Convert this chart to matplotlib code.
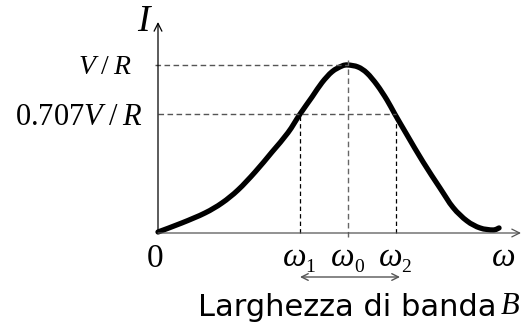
import numpy as np
import matplotlib.pyplot as plt
from matplotlib.path import Path
from matplotlib.patches import PathPatch

plt.rcParams['mathtext.fontset'] = 'custom'
plt.rcParams['mathtext.rm'] = 'Liberation Serif'
plt.rcParams['mathtext.it'] = 'Liberation Serif:italic'

# resonance curve, current normalised to V/R and frequency to omega0
omega = [0.0, 0.126, 0.247, 0.337, 0.421, 0.511, 0.600, 0.684, 0.747, 0.811,
         0.863, 0.916, 0.968, 1.0, 1.053, 1.100, 1.153, 1.205, 1.247, 1.311,
         1.395, 1.484, 1.553, 1.626, 1.695, 1.763, 1.795]
current = [0.006, 0.060, 0.119, 0.179, 0.256, 0.363, 0.482, 0.597, 0.707, 0.810,
           0.895, 0.960, 0.994, 1.0, 0.988, 0.952, 0.881, 0.792, 0.707, 0.583,
           0.423, 0.268, 0.152, 0.072, 0.030, 0.018, 0.030]
omega0 = 1.0
omega1 = 0.747
omega2 = 1.253
peak = 1.0
half_power = 0.707

W, H = 524, 329
fig = plt.figure(figsize=(W / 100, H / 100), dpi=100)
ax = fig.add_axes([0, 0, 1, 1])
# origin of the plot sits at (158, 233) px, 190 px per omega0, 168 px per V/R
sx, sy = 190.0, 168.0
ox, oy = 158.0, 233.0
ax.set_xlim(-ox / sx, (W - ox) / sx)
ax.set_ylim(-(H - oy) / sy, oy / sy)
ax.axis('off')


def P(x, y):
    return ((x - ox) / sx, (oy - y) / sy)


def smooth_path(xs, ys):
    # Catmull-Rom through the points, written as cubic Bezier segments
    pts = np.column_stack([xs, ys])
    verts = [pts[0]]
    codes = [Path.MOVETO]
    for i in range(len(pts) - 1):
        p0 = pts[max(i - 1, 0)]
        p1, p2 = pts[i], pts[i + 1]
        p3 = pts[min(i + 2, len(pts) - 1)]
        verts += [p1 + (p2 - p0) / 6, p2 - (p3 - p1) / 6, p2]
        codes += [Path.CURVE4] * 3
    return Path(verts, codes)


arrow = dict(arrowstyle='->', color='black', lw=0.9, mutation_scale=14,
             shrinkA=0, shrinkB=0)
# axes with arrow heads
ax.annotate('', xy=(0, P(0, 22)[1]), xytext=(0, 0), arrowprops=arrow)
ax.annotate('', xy=(P(521, 0)[0], 0), xytext=(0, 0),
            arrowprops=dict(arrow, color='#555555'))

# guide lines
ax.plot([P(155, 0)[0], omega0], [peak, peak], color='#555555', lw=1.0,
        dashes=(4, 2.5))
ax.plot([0, omega2], [half_power, half_power], color='#555555', lw=1.0,
        dashes=(4, 2.5))
ax.plot([omega0, omega0], [P(0, 237)[1], P(0, 60)[1]], color='#666666', lw=1.0,
        dashes=(4, 2.5))
ax.plot([omega1, omega1], [0, half_power], color='black', lw=0.9, dashes=(3.5, 2.5))
ax.plot([omega2, omega2], [0, half_power], color='black', lw=0.9, dashes=(3.5, 2.5))

ax.add_patch(PathPatch(smooth_path(omega, current), fill=False, edgecolor='black',
                       lw=3.8, capstyle='round', joinstyle='round'))

serif = 'Liberation Serif'
ax.text(*P(143, 22), 'I', family=serif, style='italic', fontsize=27,
        ha='center', va='center')
ax.text(*P(105, 66), r'$V\;/\;R$', fontsize=20, ha='center', va='center')
ax.text(*P(79, 117), r'$\mathrm{0.707}V\;/\;R$', fontsize=22, ha='center',
        va='center')
ax.text(*P(155, 259), '0', family=serif, fontsize=24, ha='center', va='center')

# omega labels with lowered subscripts
for w, sub, dx in [(omega1, '1', 16), (omega0, '0', 17), (omega2, '2', 16)]:
    x = w * sx + ox - 6
    ax.text(*P(x, 256), r'$\omega$', fontsize=24, ha='center', va='center')
    ax.text(*P(x + dx, 268), sub, family=serif, fontsize=14, ha='center',
            va='center')
ax.text(*P(503, 256), r'$\omega$', fontsize=24, ha='center', va='center')

# bandwidth arrow
ax.annotate('', xy=P(300, 277), xytext=P(400, 277),
            arrowprops=dict(arrowstyle='<->', color='#555555', lw=1.0,
                            mutation_scale=12, shrinkA=0, shrinkB=0))

ax.text(*P(497, 307), 'Larghezza di banda', family='DejaVu Sans', fontsize=22,
        ha='right', va='center')
ax.text(*P(501, 307), 'B', family=serif, style='italic', fontsize=22,
        ha='left', va='center')

fig.savefig('out.png', dpi=100)
